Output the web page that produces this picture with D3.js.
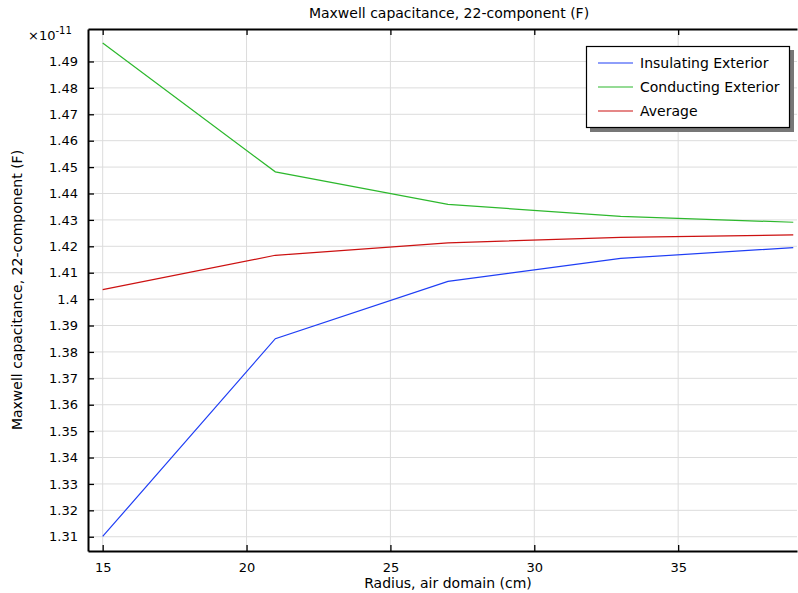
<!DOCTYPE html>
<html lang="en">
	<head>
		<meta charset="utf-8">
		<title>Maxwell capacitance</title>
		<script type="text/javascript" src="https://cdn.jsdelivr.net/npm/d3@7/dist/d3.min.js"></script>
		<style type="text/css">
			body { margin:0px; background:#fff; }
			text { font-family: "DejaVu Sans", sans-serif; font-size: 14px; fill:#000; }
		</style>
	</head>
	<body>
	<div id="chart"></div>
	<script type="text/javascript">
		//Data (values in units of 1e-11 F)
		var radius = [15, 21, 27, 33, 39];
		var insulating = [1.3101, 1.3850, 1.4067, 1.4154, 1.4195];
		var conducting = [1.4970, 1.4482, 1.4359, 1.4313, 1.4291];
		var average = [1.4036, 1.4166, 1.4213, 1.4234, 1.4243];
		var seriesNames = ["Insulating Exterior", "Conducting Exterior", "Average"];
		var seriesColors = ["#1f3ef5", "#2db82d", "#cc1111"];
		var xTicks = [15, 20, 25, 30, 35];
		var yTicks = [1.31, 1.32, 1.33, 1.34, 1.35, 1.36, 1.37, 1.38, 1.39, 1.4,
			1.41, 1.42, 1.43, 1.44, 1.45, 1.46, 1.47, 1.48, 1.49];

		var w = 798, h = 593;
		var margin = {left:88, right:1, top:29, bottom:42};
		var width = w - margin.left - margin.right;
		var height = h - margin.top - margin.bottom;

		var svg = d3.select("#chart").append("svg")
			.attr("width", w)
			.attr("height", h);

		var g = svg.append("g")
			.attr("transform", "translate(" + margin.left + "," + margin.top + ")");

		var x = d3.scaleLinear().domain([14.49, 39.13]).range([0, width]);
		var y = d3.scaleLinear().domain([1.3046, 1.5023]).range([height, 0]);

		//Grid
		g.selectAll(".gx").data(xTicks).enter().append("line")
			.attr("x1", function(d){ return x(d); }).attr("x2", function(d){ return x(d); })
			.attr("y1", 0).attr("y2", height)
			.attr("stroke", "#dcdcdc").attr("stroke-width", 1);
		g.selectAll(".gy").data(yTicks).enter().append("line")
			.attr("y1", function(d){ return y(d); }).attr("y2", function(d){ return y(d); })
			.attr("x1", 0).attr("x2", width)
			.attr("stroke", "#dcdcdc").attr("stroke-width", 1);

		//Axes (ticks inward)
		var xAxis = g.append("g")
			.attr("transform", "translate(0," + height + ")")
			.call(d3.axisBottom(x).tickValues(xTicks).tickSizeInner(-6).tickSizeOuter(0).tickPadding(12));
		var xTop = g.append("g")
			.call(d3.axisTop(x).tickValues(xTicks).tickSizeInner(-6).tickSizeOuter(0).tickFormat(""));
		var yAxis = g.append("g")
			.call(d3.axisLeft(y).tickValues(yTicks).tickSizeInner(-6).tickSizeOuter(0).tickPadding(10)
				.tickFormat(d3.format("~g")));

		[xAxis, xTop, yAxis].forEach(function(a){
			a.select(".domain").attr("stroke", "#000").attr("stroke-width", 2);
			a.selectAll(".tick line").attr("stroke", "#000").attr("stroke-width", 1.3);
			a.selectAll(".tick text").style("font-size", "13px").attr("fill", "#000");
		});
		xAxis.selectAll(".tick text").attr("dy", "0.71em");

		//Lines
		var line = d3.line()
			.x(function(d, i){ return x(radius[i]); })
			.y(function(d){ return y(d); });

		[insulating, conducting, average].forEach(function(s, i){
			g.append("path")
				.datum(s)
				.attr("d", line)
				.attr("fill", "none")
				.attr("stroke", seriesColors[i])
				.attr("stroke-width", 1.2);
		});

		//Exponent
		var ex = svg.append("text").attr("x", 28).attr("y", 40).style("font-size", "13px");
		ex.append("tspan").text("\u00d710");
		ex.append("tspan").attr("dy", -6).style("font-size", "10px").text("-11");

		//Titles
		svg.append("text")
			.attr("x", 449).attr("y", 18)
			.attr("text-anchor", "middle")
			.text("Maxwell capacitance, 22-component (F)");
		svg.append("text")
			.attr("x", 448).attr("y", 588)
			.attr("text-anchor", "middle")
			.text("Radius, air domain (cm)");
		svg.append("text")
			.attr("transform", "translate(22," + (margin.top + height / 2) + ") rotate(-90)")
			.attr("text-anchor", "middle")
			.text("Maxwell capacitance, 22-component (F)");

		//Legend
		var lg = svg.append("g").attr("transform", "translate(586,46)");
		lg.append("rect")
			.attr("x", 4).attr("y", 4).attr("width", 204).attr("height", 82)
			.attr("fill", "#777");
		lg.append("rect")
			.attr("x", 0.5).attr("y", 0.5).attr("width", 203).attr("height", 81)
			.attr("fill", "#fff").attr("stroke", "#000").attr("stroke-width", 1.2);
		seriesNames.forEach(function(name, i){
			var ly = 17 + i * 24;
			lg.append("line")
				.attr("x1", 12).attr("x2", 47)
				.attr("y1", ly).attr("y2", ly)
				.attr("stroke", seriesColors[i]).attr("stroke-width", 1.2);
			lg.append("text")
				.attr("x", 54).attr("y", ly + 5)
				.text(name);
		});
	</script>
	</body>
</html>
